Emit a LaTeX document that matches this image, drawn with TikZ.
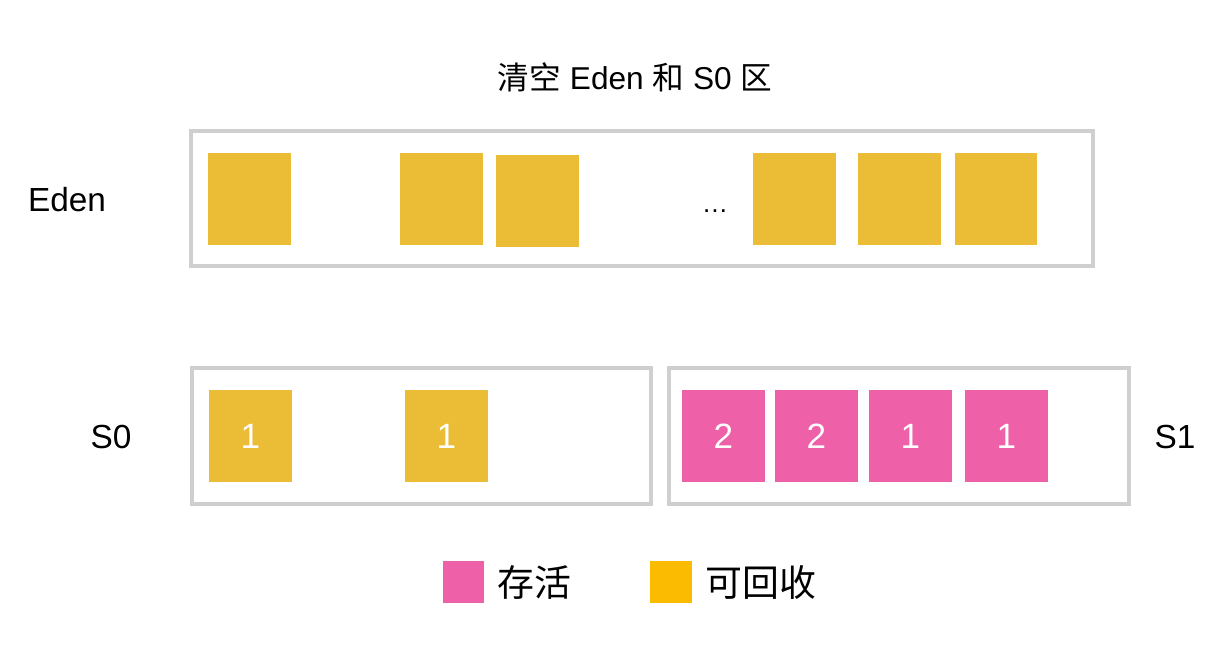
\documentclass[tikz,border=0pt]{standalone}
\usepackage{fontspec}
\setmainfont{Liberation Sans}
\newfontfamily\cjk{Noto Sans CJK SC}
\usepackage{tikz}
\usetikzlibrary{positioning}
\definecolor{oldc}{HTML}{EBBC36}
\definecolor{keyold}{HTML}{FBBB00}
\definecolor{livec}{HTML}{EE60A8}
\definecolor{framec}{HTML}{CFCFCF}
\tikzset{
  frame/.style={draw=framec, line width=0.08cm},
  blk/.style={rectangle, inner sep=0pt, minimum width=1.66cm, minimum height=1.84cm,
    text=white, font=\fontsize{20}{24}\selectfont},
  old/.style={blk, fill=oldc},
  live/.style={blk, fill=livec},
  key/.style={rectangle, inner sep=0pt, minimum size=0.83cm},
  lbl/.style={font=\fontsize{19}{23}\selectfont},
  keylbl/.style={anchor=west, inner sep=0pt, font=\cjk\fontsize{21}{25}\selectfont}
}

\begin{document}
\begin{tikzpicture}[x=0.02cm, y=-0.02cm]
    \useasboundingbox (0,0) rectangle (1215,649);

    % --- Title ---
    \node[font=\fontsize{18}{22}\selectfont] (title) at (635,77)
        {{\cjk 清空} Eden {\cjk 和} S0 {\cjk 区}};

    % --- Eden ---
    \draw[frame] (191,131) rectangle (1093,266);
    \node[lbl] (eden) at (67,200) {Eden};
    \foreach \x [count=\i] in {249.5,441.5,794.5,899.5,996}
        \node[old] (e\i) at (\x,199) {};
    \node[old] (e6) at (537.5,201) {};   % slightly lower one
    \node[font=\fontsize{15}{18}\selectfont] (dots) at (715,211) {\dots};

    % --- Survivor spaces ---
    \draw[frame] (192,368) rectangle (651,504);
    \draw[frame] (669,368) rectangle (1129,504);
    \node[lbl] (s0) at (111,437) {S0};
    \node[lbl] (s1) at (1175,437) {S1};

    % S0: both recyclable
    \node[old] (a1) at (250.5,436) {1};
    \node[old] (a2) at (446.5,436) {1};

    % S1: survivors with ages
    \foreach \x/\n [count=\i] in {723.5/2,816.5/2,910.5/1,1006.5/1}
        \node[live] (b\i) at (\x,436) {\n};

    % --- Legend ---
    \node[key, fill=livec] (klive) at (463.5,582) {};
    \node[keylbl] (tlive) at (497,582) {存活};
    \node[key, fill=keyold] (kold) at (671,582) {};
    \node[keylbl] (told) at (705,582) {可回收};
\end{tikzpicture}
\end{document}
